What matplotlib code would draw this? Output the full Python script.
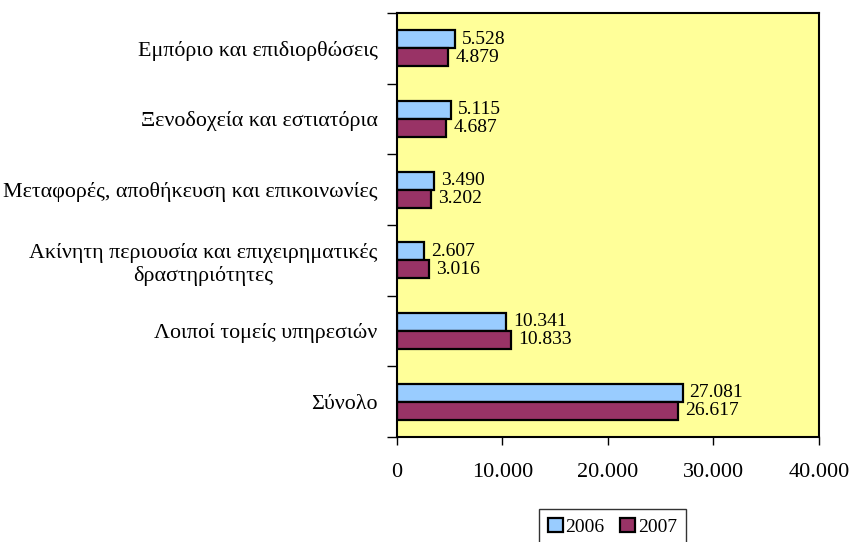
import matplotlib.pyplot as plt
import numpy as np
from matplotlib.ticker import FuncFormatter

plt.rcParams['font.family'] = ['Liberation Serif', 'DejaVu Serif']

categories = [
    'Εμπόριο και επιδιορθώσεις',
    'Ξενοδοχεία και εστιατόρια',
    'Μεταφορές, αποθήκευση και επικοινωνίες',
    'Ακίνητη περιουσία και επιχειρηματικές\nδραστηριότητες',
    'Λοιποί τομείς υπηρεσιών',
    'Σύνολο',
]
values_2006 = [5528, 5115, 3490, 2607, 10341, 27081]
values_2007 = [4879, 4687, 3202, 3016, 10833, 26617]
years = ['2006', '2007']


def dotted(v, pos=None):
    return f'{int(v):,}'.replace(',', '.')


fig = plt.figure(figsize=(8.5, 5.42), dpi=100)
ax = fig.add_axes([0.467, 0.194, 0.4965, 0.782])
ax.set_facecolor('#FFFF99')

n = len(categories)
y = np.arange(n)
h = 0.255
bars_a = ax.barh(y - h / 2, values_2006, height=h, color='#99CCFF',
                 edgecolor='black', linewidth=1.6, label=years[0])
bars_b = ax.barh(y + h / 2, values_2007, height=h, color='#993366',
                 edgecolor='black', linewidth=1.6, label=years[1])

for bars, vals in ((bars_a, values_2006), (bars_b, values_2007)):
    for b, v in zip(bars, vals):
        ax.text(v + 650, b.get_y() + b.get_height() / 2, dotted(v),
                va='center', ha='left', fontsize=14)

ax.set_ylim(n - 0.5, -0.5)
ax.set_xlim(0, 40000)
ax.set_yticks(y)
ax.set_yticklabels(categories, fontsize=15.8, ha='right', multialignment='center')
ax.tick_params(axis='y', which='major', length=0, pad=14)
ax.set_yticks(np.arange(-0.5, n), minor=True)
ax.tick_params(axis='y', which='minor', length=7, width=1, direction='out')
ax.set_xticks(np.arange(0, 40001, 10000))
ax.xaxis.set_major_formatter(FuncFormatter(dotted))
ax.tick_params(axis='x', length=6, width=1, direction='out', labelsize=16, pad=13)

for s in ax.spines.values():
    s.set_linewidth(1.5)
    s.set_color('black')

fig.legend(loc='upper center', bbox_to_anchor=(0.7206, 0.061), ncol=2,
           fontsize=14, frameon=True, fancybox=False, edgecolor='black',
           handlelength=0.75, handleheight=0.75, handletextpad=0.15,
           columnspacing=0.8, borderpad=0.45, borderaxespad=0)

fig.savefig('out.png', dpi=100)
